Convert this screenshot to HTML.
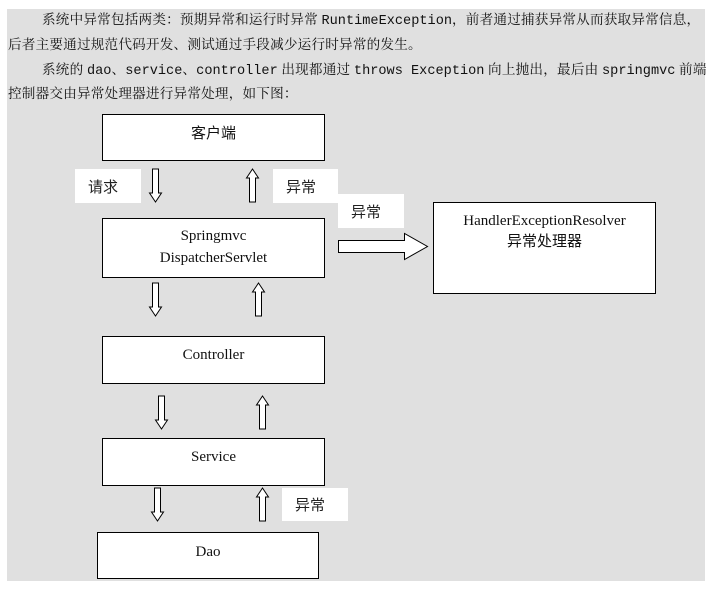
<!DOCTYPE html>
<html><head><meta charset="utf-8"><style>
html,body{margin:0;padding:0;background:#fff;width:710px;height:589px;overflow:hidden;position:relative}
.bg{position:absolute;left:7px;top:9px;width:698px;height:572px;background:#e0e0e0}
.t{position:absolute;font-family:"Liberation Serif","Noto Serif CJK SC",serif;font-size:13.6px;letter-spacing:0.2px;color:#111;white-space:nowrap;line-height:16px}
.m{font-family:"Liberation Mono",monospace;font-size:13.6px;letter-spacing:0}
.box{position:absolute;background:#fff;border:1.5px solid #000;box-sizing:border-box;text-align:center;font-family:"Liberation Serif","Noto Sans CJK SC",serif;font-size:15px;color:#111}
.lb{position:absolute;background:#fff;font-family:"Liberation Sans","Noto Sans CJK SC",sans-serif;font-size:15px;color:#222;box-sizing:border-box;padding-left:13px;display:flex;align-items:center}
svg{position:absolute;left:0;top:0}
</style></head><body>
<div class="bg"></div>
<div class="t" style="left:42px;top:12px">系统中异常包括两类：预期异常和运行时异常 <span class="m">RuntimeException</span>，前者通过捕获异常从而获取异常信息，</div>
<div class="t" style="left:8px;top:37px">后者主要通过规范代码开发、测试通过手段减少运行时异常的发生。</div>
<div class="t" style="left:42px;top:62px">系统的 <span class="m">dao</span>、<span class="m">service</span>、<span class="m">controller</span> 出现都通过 <span class="m">throws Exception</span> 向上抛出，最后由 <span class="m">springmvc</span> 前端</div>
<div class="t" style="left:8px;top:86px">控制器交由异常处理器进行异常处理，如下图：</div>

<div class="box" style="left:102px;top:114px;width:223px;height:47px;line-height:38px">客户端</div>
<div class="box" style="left:102px;top:218px;width:223px;height:60px;line-height:22px;padding-top:6px">Springmvc<br>DispatcherServlet</div>
<div class="box" style="left:433px;top:202px;width:223px;height:92px;line-height:21px;padding-top:8px">HandlerExceptionResolver<br>异常处理器</div>
<div class="box" style="left:102px;top:336px;width:223px;height:48px;line-height:36px">Controller</div>
<div class="box" style="left:102px;top:438px;width:223px;height:48px;line-height:36px">Service</div>
<div class="box" style="left:97px;top:532px;width:222px;height:47px;line-height:38px">Dao</div>

<div class="lb" style="left:75px;top:169px;width:66px;height:34px">请求</div>
<div class="lb" style="left:273px;top:169px;width:65px;height:34px">异常</div>
<div class="lb" style="left:338px;top:194px;width:66px;height:34px">异常</div>
<div class="lb" style="left:282px;top:488px;width:66px;height:33px">异常</div>

<svg width="710" height="589" fill="#fff" stroke="#000" stroke-width="1">
<defs>
<path id="d" d="M-3,0 H3 V24 H6 L0,33 L-6,24 H-3 Z"/>
<path id="u" d="M-3,33 H3 V9 H6 L0,0 L-6,9 H-3 Z"/>
</defs>
<use href="#d" x="155.5" y="169"/>
<use href="#u" x="252.5" y="169"/>
<use href="#d" x="155.5" y="283"/>
<use href="#u" x="258.5" y="283"/>
<use href="#d" x="161.5" y="396"/>
<use href="#u" x="262.5" y="396"/>
<use href="#d" x="157.5" y="488"/>
<use href="#u" x="262.5" y="488"/>
<path d="M338.5,240.5 H404.5 V233.5 L427.5,246.5 L404.5,259.5 V252.5 H338.5 Z"/>
</svg>
</body></html>
